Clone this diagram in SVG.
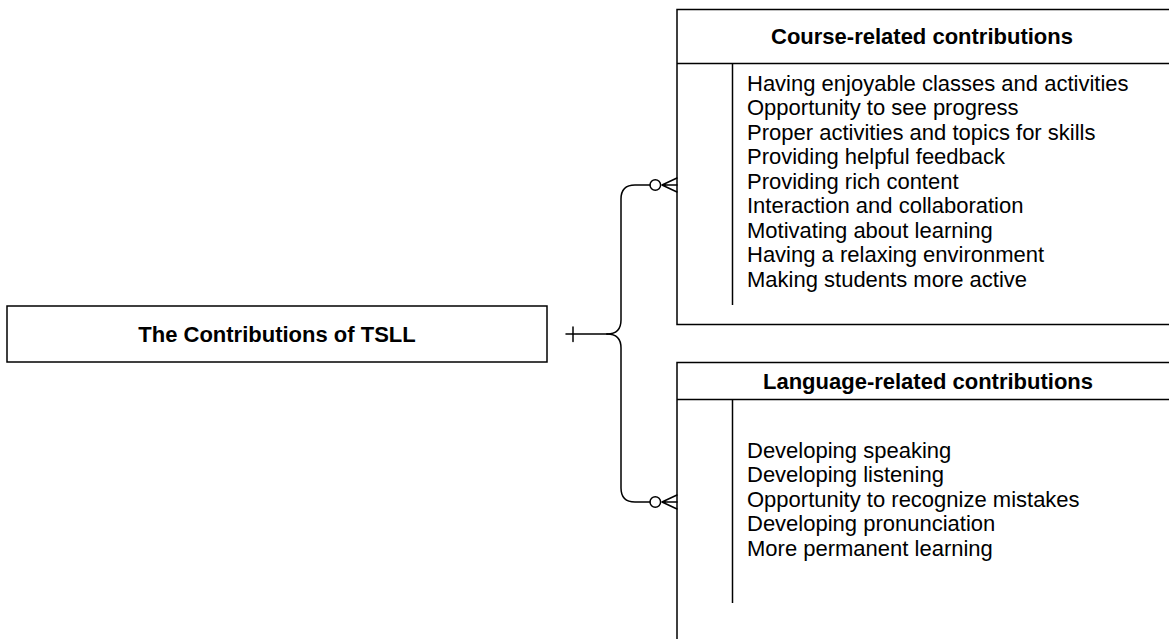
<svg xmlns="http://www.w3.org/2000/svg" width="1169" height="639" viewBox="0 0 1169 639">
  <style>
    .box { fill: #ffffff; stroke: #000000; stroke-width: 1.5; }
    .rule { fill: none; stroke: #000000; stroke-width: 1.5; }
    .title { font-family: "Liberation Sans", Arial, Helvetica, sans-serif; font-size: 22px; font-weight: bold; fill: #000000; text-anchor: middle; }
    .item { font-family: "Liberation Sans", Arial, Helvetica, sans-serif; font-size: 22px; fill: #000000; }
    .link { fill: none; stroke: #000000; stroke-width: 1.5; stroke-linecap: round; stroke-linejoin: round; }
  </style>

  <rect width="1169" height="639" fill="#ffffff"/>

  <!-- root entity -->
  <g id="node-tsll">
    <rect class="box" x="7" y="306" width="540" height="56"/>
    <text class="title" x="277" y="342">The Contributions of TSLL</text>
  </g>

  <!-- course-related entity -->
  <g id="node-course">
    <rect class="box" x="677" y="9.5" width="520" height="315"/>
    <line class="rule" x1="677" y1="63.5" x2="1197" y2="63.5"/>
    <line class="rule" x1="732.5" y1="63.5" x2="732.5" y2="305"/>
    <text class="title" x="922" y="44">Course-related contributions</text>
    <text class="item" x="747">
      <tspan x="747" y="90.5">Having enjoyable classes and activities</tspan>
      <tspan x="747" y="115">Opportunity to see progress</tspan>
      <tspan x="747" y="139.5">Proper activities and topics for skills</tspan>
      <tspan x="747" y="164">Providing helpful feedback</tspan>
      <tspan x="747" y="188.5">Providing rich content</tspan>
      <tspan x="747" y="213">Interaction and collaboration</tspan>
      <tspan x="747" y="237.5">Motivating about learning</tspan>
      <tspan x="747" y="262">Having a relaxing environment</tspan>
      <tspan x="747" y="286.5">Making students more active</tspan>
    </text>
  </g>

  <!-- language-related entity -->
  <g id="node-language">
    <rect class="box" x="677" y="362.5" width="520" height="300"/>
    <line class="rule" x1="677" y1="399.5" x2="1197" y2="399.5"/>
    <line class="rule" x1="732.5" y1="399.5" x2="732.5" y2="603"/>
    <text class="title" x="928" y="389">Language-related contributions</text>
    <text class="item" x="747">
      <tspan x="747" y="457.5">Developing speaking</tspan>
      <tspan x="747" y="482">Developing listening</tspan>
      <tspan x="747" y="506.5">Opportunity to recognize mistakes</tspan>
      <tspan x="747" y="531">Developing pronunciation</tspan>
      <tspan x="747" y="555.5">More permanent learning</tspan>
    </text>
  </g>

  <!-- one-to-many (zero or more) relationships -->
  <g id="connectors">
    <!-- shared stem with the "one" tick -->
    <path class="link" d="M566 334 H607"/>
    <line class="link" x1="573" y1="327" x2="573" y2="341.5"/>
    <!-- upper branch -->
    <path class="link" d="M607 334 Q621 334 621 320 V199 Q621 185 635 185 H650"/>
    <circle class="link" cx="655.3" cy="185" r="5.3"/>
    <path class="link" d="M677 178 L662 185 L677 192 M662 185 H677"/>
    <!-- lower branch -->
    <path class="link" d="M607 334 Q621 334 621 348 V488 Q621 502 635 502 H650"/>
    <circle class="link" cx="655.3" cy="502" r="5.3"/>
    <path class="link" d="M677 495 L662 502 L677 509 M662 502 H677"/>
  </g>
</svg>
